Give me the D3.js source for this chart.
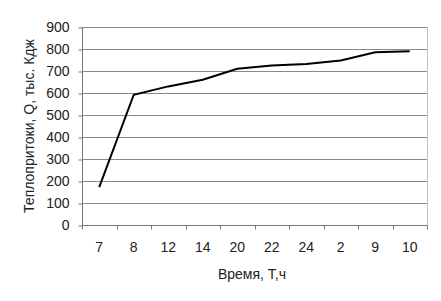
<html>
<head>
<script src="https://d3js.org/d3.v7.min.js"></script>
</head>
<body style="margin:0;background:#fff">
<svg width="441" height="301"></svg>
<script>
// hours along the x axis and the heat gain at each
var hours = ["7", "8", "12", "14", "20", "22", "24", "2", "9", "10"];
var heat = [172, 592, 630, 660, 710, 725, 732, 748, 785, 790];
var yTicks = [0, 100, 200, 300, 400, 500, 600, 700, 800, 900];

var svg = d3.select("svg");
var plotL = 82, plotR = 427, plotT = 27, plotB = 225;

var x = d3.scaleBand().domain(hours).range([plotL, plotR]);
var y = d3.scaleLinear().domain([0, 900]).range([plotB, plotT]);

var font = "Liberation Sans, Arial, sans-serif";

// grid
svg.append("g").selectAll("line")
  .data(yTicks.slice(1))
  .enter().append("line")
  .attr("x1", plotL).attr("x2", plotR)
  .attr("y1", function (d) { return y(d) + 0.5; })
  .attr("y2", function (d) { return y(d) + 0.5; })
  .attr("stroke", "#8a8a8a").attr("stroke-width", 1);

// right border of plot area
svg.append("line")
  .attr("x1", plotR + 0.5).attr("x2", plotR + 0.5)
  .attr("y1", plotT).attr("y2", plotB)
  .attr("stroke", "#c0c0c0");

// y axis
var yAxis = svg.append("g")
  .attr("transform", "translate(" + (plotL + 0.5) + ",0.5)")
  .call(d3.axisLeft(y).tickValues(yTicks).tickSize(4).tickPadding(9));
yAxis.select(".domain").attr("stroke", "#777").attr("d", "M0," + plotT + "V" + plotB);
yAxis.selectAll(".tick line").attr("stroke", "#777");
yAxis.selectAll("text").attr("font-family", font).attr("font-size", 14).attr("fill", "#222");

// x axis, ticks at band edges
var xAxis = svg.append("g")
  .attr("transform", "translate(0," + (plotB + 0.5) + ")")
  .call(d3.axisBottom(x).tickSize(0).tickPadding(17));
xAxis.select(".domain").attr("stroke", "#777").attr("d", "M" + plotL + ",0H" + (plotR + 0.5));
xAxis.selectAll("text").attr("font-family", font).attr("font-size", 14).attr("fill", "#222");
xAxis.selectAll(".edge")
  .data(hours.map(function (h) { return x(h); }).concat([plotR]))
  .enter().append("line")
  .attr("x1", function (d) { return Math.round(d) + 0.5; })
  .attr("x2", function (d) { return Math.round(d) + 0.5; })
  .attr("y1", 0).attr("y2", 4)
  .attr("stroke", "#777");

// the line
var line = d3.line()
  .x(function (d, i) { return x(hours[i]) + x.bandwidth() / 2; })
  .y(function (d) { return y(d); });
svg.append("path")
  .datum(heat)
  .attr("d", line)
  .attr("fill", "none")
  .attr("stroke", "#000")
  .attr("stroke-width", 2);

// axis titles
svg.append("text")
  .attr("x", 252).attr("y", 279)
  .attr("text-anchor", "middle")
  .attr("font-family", font).attr("font-size", 14).attr("fill", "#222")
  .text("Время, Т,ч");

svg.append("text")
  .attr("transform", "translate(34,126) rotate(-90)")
  .attr("text-anchor", "middle")
  .attr("font-family", font).attr("font-size", 14).attr("fill", "#222")
  .text("Теплопритоки, Q, тыс. Кдж");
</script>
</body>
</html>
